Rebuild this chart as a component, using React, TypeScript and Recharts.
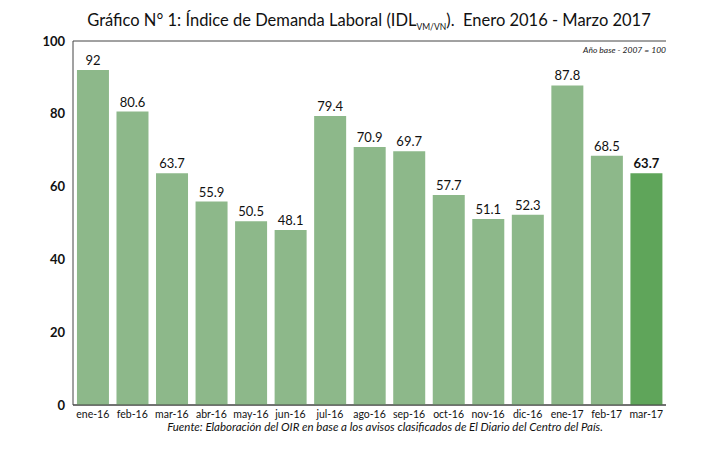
import React from 'react'
import { BarChart, Bar, Cell, XAxis, YAxis, CartesianGrid, LabelList } from 'recharts'

const months = [
  'ene-16', 'feb-16', 'mar-16', 'abr-16', 'may-16', 'jun-16', 'jul-16', 'ago-16',
  'sep-16', 'oct-16', 'nov-16', 'dic-16', 'ene-17', 'feb-17', 'mar-17',
]
const idl = [92, 80.6, 63.7, 55.9, 50.5, 48.1, 79.4, 70.9, 69.7, 57.7, 51.1, 52.3, 87.8, 68.5, 63.7]
const yTicks = [0, 20, 40, 60, 80, 100]

const chartData = months.map((m, i) => ({ mes: m, idl: idl[i] }))
const lastIdx = months.length - 1

const font = 'Lato, "Open Sans", sans-serif'

const renderLabel = (props: any) => {
  const { x, y, width, value, index } = props
  return (
    <text
      x={x + width / 2}
      y={y - 5}
      textAnchor="middle"
      fontSize={13}
      fontWeight={index === lastIdx ? 700 : 400}
      fill="#111"
      fontFamily={font}
    >
      {value}
    </text>
  )
}

const App: React.FC = () => {
  return (
    <div style={{ position: 'relative', width: 700, height: 440, fontFamily: font }}>
      <div
        style={{
          position: 'absolute',
          top: 2,
          left: 0,
          width: 722,
          textAlign: 'center',
          fontSize: 16.5,
          color: '#111',
        }}
      >
        Gráfico N° 1: Índice de Demanda Laboral (IDL
        <sub style={{ fontSize: 8.5 }}>VM/VN</sub>).&nbsp; Enero 2016 - Marzo 2017
      </div>
      <div
        style={{
          position: 'absolute',
          top: 37,
          right: 42,
          fontSize: 8.5,
          fontStyle: 'italic',
          color: '#222',
        }}
      >
        Año base - 2007 = 100
      </div>
      <BarChart
        width={700}
        height={440}
        data={chartData}
        margin={{ top: 33, right: 42, left: 35, bottom: 23 }}
        barCategoryGap="10%"
      >
        <CartesianGrid vertical={false} stroke="#444" strokeWidth={1} />
        <XAxis
          dataKey="mes"
          height={20}
          tickLine={false}
          axisLine={{ stroke: '#444' }}
          tick={{ fontSize: 10.5, fill: '#111', fontFamily: font, dy: -2 }}
          interval={0}
        />
        <YAxis
          yAxisId="left"
          width={30}
          domain={[0, 100]}
          ticks={yTicks}
          axisLine={{ stroke: '#444' }}
          tickLine={false}
          tick={{ fontSize: 13, fill: '#111', fontFamily: font, fontWeight: 700 }}
        />
        <YAxis
          yAxisId="right"
          orientation="right"
          width={0}
          domain={[0, 100]}
          ticks={yTicks}
          axisLine={{ stroke: '#444' }}
          tickLine={false}
          tick={false}
        />
        <Bar dataKey="idl" yAxisId="left" fill="#8db88a" isAnimationActive={false}>
          {chartData.map((d, i) => (
            <Cell key={d.mes} fill={i === lastIdx ? '#5fa55a' : '#8db88a'} />
          ))}
          <LabelList dataKey="idl" content={renderLabel} />
        </Bar>
      </BarChart>
      <div
        style={{
          position: 'absolute',
          top: 412,
          left: 0,
          width: 754,
          textAlign: 'center',
          fontSize: 11.5,
          fontStyle: 'italic',
          color: '#111',
        }}
      >
        Fuente: Elaboración del OIR en base a los avisos clasificados de El Diario del Centro del País.
      </div>
    </div>
  )
}

export default App
